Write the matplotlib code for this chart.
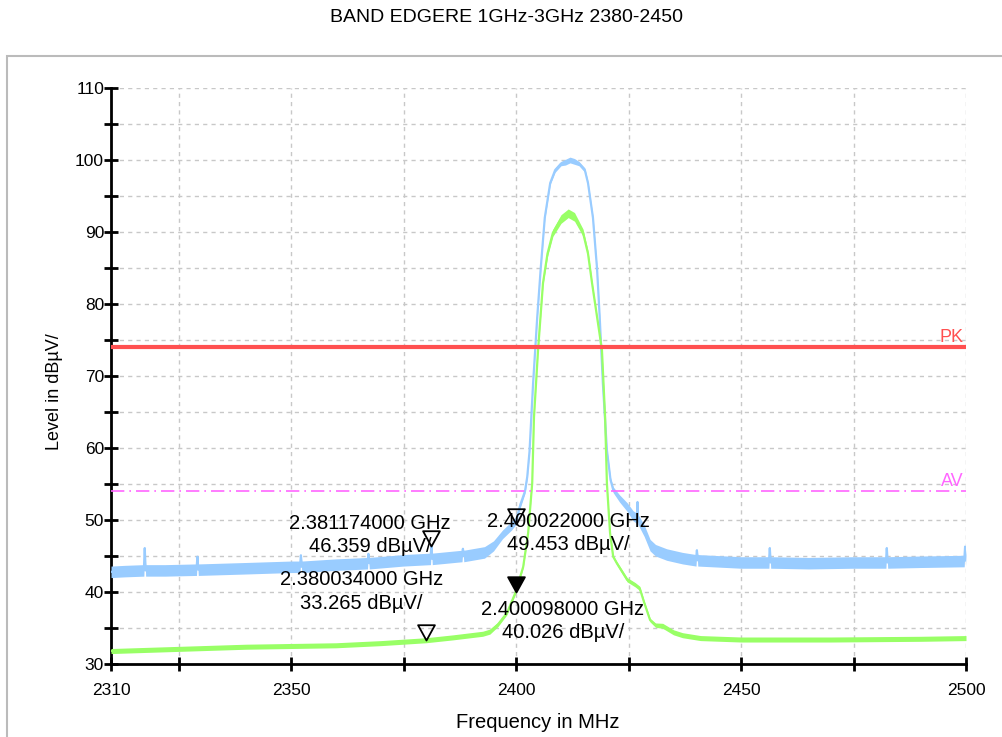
"""Band edge scan 2310-2500 MHz: peak and average traces with limit lines."""

import matplotlib
matplotlib.use("Agg")
import matplotlib.pyplot as plt
from matplotlib.patches import Rectangle
from matplotlib.path import Path

plt.rcParams["font.family"] = ["Liberation Sans", "DejaVu Sans"]

# Peak trace (light blue): frequency MHz, level dBuV, half-width of the noise band.
pk_freq = [2310.0, 2313.0, 2317.3, 2317.5, 2317.7, 2322.0, 2329.0, 2329.2, 2329.4,
           2340.0, 2350.0, 2352.0, 2352.2, 2352.4, 2360.0, 2367.0, 2367.2, 2367.4,
           2375.0, 2381.0, 2381.2, 2381.4, 2388.0, 2388.2, 2388.4, 2393.0, 2395.0,
           2397.0, 2399.0, 2400.0, 2401.0, 2402.0, 2402.5, 2403.0, 2403.8, 2404.7,
           2405.5, 2406.4, 2407.6, 2408.7, 2410.0, 2411.0, 2412.0, 2413.0, 2414.0,
           2415.3, 2416.0, 2417.1, 2418.0, 2418.6, 2419.3, 2420.2, 2421.0, 2421.6,
           2423.0, 2424.7, 2426.0, 2426.9, 2427.0, 2427.1, 2428.5, 2429.8, 2431.0,
           2433.5, 2437.0, 2440.0, 2440.2, 2440.4, 2450.0, 2456.2, 2456.4, 2456.6,
           2465.0, 2475.0, 2482.2, 2482.4, 2482.6, 2490.0, 2499.6, 2499.8, 2500.0]
pk_level = [42.8, 42.9, 43.0, 46.1, 43.0, 43.0, 43.1, 44.9, 43.1,
            43.3, 43.5, 43.5, 45.1, 43.5, 43.8, 44.0, 45.3, 44.0,
            44.4, 44.6, 46.4, 44.6, 45.0, 46.0, 45.0, 45.5, 46.4,
            48.0, 49.2, 49.9, 52.2, 54.0, 56.0, 59.5, 69.0, 78.0,
            85.0, 92.0, 96.8, 98.6, 99.5, 99.7, 100.0, 99.8, 99.5,
            98.6, 96.8, 92.0, 85.0, 78.2, 69.0, 59.7, 55.6, 54.2,
            53.0, 51.8, 50.6, 50.2, 52.5, 50.1, 48.5, 46.5, 45.8,
            45.2, 44.7, 44.4, 45.8, 44.4, 44.1, 44.1, 46.1, 44.1,
            44.0, 44.1, 44.1, 46.1, 44.1, 44.2, 44.3, 46.3, 44.4]
pk_spread = [0.8, 0.8, 0.8, 0.2, 0.8, 0.8, 0.8, 0.2, 0.8,
             0.8, 0.8, 0.8, 0.2, 0.8, 0.8, 0.8, 0.2, 0.8,
             0.8, 0.8, 0.2, 0.8, 0.8, 0.2, 0.8, 0.8, 0.7,
             0.6, 0.6, 0.5, 0.4, 0.3, 0.2, 0.2, 0.2, 0.2,
             0.2, 0.2, 0.2, 0.3, 0.3, 0.4, 0.4, 0.4, 0.3,
             0.3, 0.2, 0.2, 0.2, 0.2, 0.2, 0.2, 0.3, 0.4,
             0.5, 0.6, 0.7, 0.7, 0.2, 0.7, 0.8, 0.8, 0.8,
             0.8, 0.8, 0.8, 0.2, 0.8, 0.8, 0.8, 0.2, 0.8,
             0.8, 0.8, 0.8, 0.2, 0.8, 0.8, 0.8, 0.2, 0.8]

# Average trace (light green).
av_freq = [2310.0, 2320.0, 2330.0, 2340.0, 2350.0, 2360.0, 2370.0, 2380.0, 2386.0,
           2392.6, 2394.2, 2396.0, 2398.0, 2399.8, 2400.5, 2401.6, 2402.7, 2403.6,
           2404.0, 2404.9, 2406.0, 2407.0, 2408.2, 2410.0, 2411.6, 2413.0, 2414.9,
           2416.0, 2416.9, 2419.1, 2419.8, 2420.2, 2420.9, 2421.6, 2422.4, 2424.7,
           2426.5, 2427.5, 2428.5, 2429.8, 2431.0, 2432.6, 2435.0, 2437.0, 2441.0,
           2450.0, 2470.0, 2490.0, 2500.0]
av_level = [31.8, 32.0, 32.2, 32.4, 32.5, 32.6, 32.9, 33.3, 33.7,
            34.2, 34.5, 35.5, 37.1, 39.8, 41.2, 43.5, 48.2, 55.1,
            64.3, 73.6, 82.9, 87.0, 89.9, 91.8, 92.6, 92.1, 89.9,
            87.0, 82.9, 73.6, 64.3, 55.1, 48.2, 44.9, 44.0, 41.7,
            41.0, 40.5, 38.5, 36.1, 35.4, 35.3, 34.4, 34.0, 33.6,
            33.4, 33.4, 33.5, 33.6]
av_spread = [0.35, 0.35, 0.35, 0.35, 0.35, 0.35, 0.35, 0.35, 0.35,
             0.35, 0.35, 0.3, 0.25, 0.2, 0.15, 0.15, 0.15, 0.15,
             0.15, 0.15, 0.2, 0.4, 0.5, 0.6, 0.6, 0.6, 0.5,
             0.4, 0.2, 0.15, 0.15, 0.15, 0.15, 0.2, 0.25, 0.3,
             0.3, 0.3, 0.25, 0.25, 0.3, 0.35, 0.35, 0.35, 0.35,
             0.35, 0.35, 0.35, 0.35]

pk_limit = 74.0
av_limit = 54.0

# Markers: (frequency MHz, level dBuV, filled?)
mk_freq = [2381.174, 2400.022, 2380.034, 2400.098]
mk_level = [46.359, 49.453, 33.265, 40.026]
mk_filled = [False, False, False, True]
# label anchor (centre of text block) in data coordinates
mk_text_x = [2367.6, 2411.6, 2365.6, 2410.4]
mk_text_y = [47.9, 48.2, 40.1, 36.0]

BLUE = "#99CCFF"
GREEN = "#99FF66"
RED = "#FF5050"
MAGENTA = "#FF66FF"

fig = plt.figure(figsize=(10.03, 7.37), dpi=100)
fig.patch.set_facecolor("white")

# grey frame round the plot area
fig.patches.append(Rectangle((7 / 1003, -0.02), 1.05, 1 - 56 / 737 + 0.02,
                             transform=fig.transFigure, fill=False,
                             edgecolor="#BBBBBB", linewidth=1.5))

ax = fig.add_axes([111 / 1003, 1 - 664 / 737, 855 / 1003, 576 / 737])
ax.set_xlim(2310, 2500)
ax.set_ylim(30, 110)

pk_lo = [l - s for l, s in zip(pk_level, pk_spread)]
pk_hi = [l + s for l, s in zip(pk_level, pk_spread)]
av_lo = [l - s for l, s in zip(av_level, av_spread)]
av_hi = [l + s for l, s in zip(av_level, av_spread)]

ax.fill_between(pk_freq, pk_lo, pk_hi, color=BLUE, linewidth=0, zorder=3)
ax.plot(pk_freq, pk_level, color=BLUE, linewidth=1.6, zorder=3)
ax.fill_between(av_freq, av_lo, av_hi, color=GREEN, linewidth=0, zorder=4)
ax.plot(av_freq, av_level, color=GREEN, linewidth=1.6, zorder=4)

ax.axhline(pk_limit, color=RED, linewidth=3, zorder=5)
ax.axhline(av_limit, color=MAGENTA, linewidth=1.2, linestyle=(0, (8, 3, 1, 3)), zorder=5)
ax.text(2499.5, pk_limit + 0.2, "PK", color=RED, fontsize=13, ha="right", va="bottom")
ax.text(2499.5, av_limit + 0.2, "AV", color=MAGENTA, fontsize=13, ha="right", va="bottom")

# downward triangle with the tip on the point
tri = Path([(-0.55, 1.0), (0.55, 1.0), (0.0, 0.0), (-0.55, 1.0)],
           [Path.MOVETO, Path.LINETO, Path.LINETO, Path.CLOSEPOLY])
for f, lv, filled in zip(mk_freq, mk_level, mk_filled):
    ax.plot([f], [lv], marker=tri, markersize=22, markeredgewidth=1.3,
            markeredgecolor="black", markerfacecolor="black" if filled else "none",
            linestyle="none", zorder=7)
for f, lv, tx, ty in zip(mk_freq, mk_level, mk_text_x, mk_text_y):
    ax.text(tx, ty, f"{f / 1000:.9f} GHz\n{lv:.3f} dBµV/", fontsize=14.5,
            ha="center", va="center", linespacing=1.3, zorder=8)

# axes styling
for side in ("top", "right"):
    ax.spines[side].set_visible(False)
for side in ("left", "bottom"):
    ax.spines[side].set_linewidth(2)

ax.set_xticks([2310, 2325, 2350, 2375, 2400, 2425, 2450, 2475, 2500])
ax.set_xticklabels(["2310", "", "2350", "", "2400", "", "2450", "", "2500"])
ax.set_yticks(range(30, 111, 5))
ax.set_yticklabels([str(v) if v % 10 == 0 else "" for v in range(30, 111, 5)])
ax.tick_params(direction="inout", length=10, width=2, labelsize=12.5)
ax.tick_params(axis="x", pad=9)
ax.tick_params(axis="y", pad=0)
ax.grid(True, color="#C8C8C8", linestyle=(0, (3, 3)), linewidth=1)

fig.text(55 / 1003, 1 - 392 / 737, "Level in dBµV/", rotation=90,
         ha="center", va="center", fontsize=13)
fig.text(538 / 1003, 1 - 723 / 737, "Frequency in MHz", ha="center",
         va="center", fontsize=14.5)
fig.text(507 / 1003, 1 - 17 / 737, "BAND EDGERE 1GHz-3GHz 2380-2450",
         ha="center", va="center", fontsize=14)

fig.savefig("out.png", dpi=100, facecolor="white")
